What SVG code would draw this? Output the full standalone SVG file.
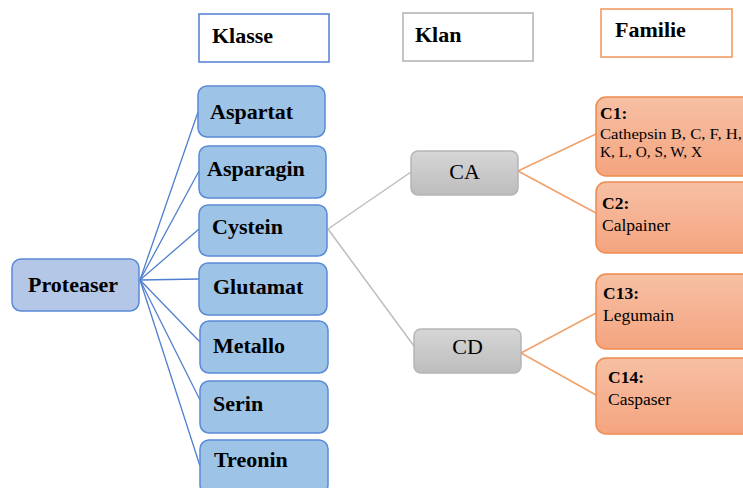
<svg xmlns="http://www.w3.org/2000/svg" width="743" height="488" viewBox="0 0 743 488">
<defs>
<linearGradient id="gGray" x1="0" y1="0" x2="0" y2="1"><stop offset="0" stop-color="#d6d6d6"/><stop offset="1" stop-color="#bdbdbd"/></linearGradient>
<linearGradient id="gOr" x1="0" y1="0" x2="0" y2="1"><stop offset="0" stop-color="#f7c0a4"/><stop offset="1" stop-color="#f4a47f"/></linearGradient>
</defs>
<style>
.hdr{fill:#fff;stroke-width:1.5}
.blue{fill:#9dc3e6;stroke:#5a8ad6;stroke-width:1.5}
.prot{fill:#b4c7e7;stroke:#5a8ad6;stroke-width:1.5}
.gray{fill:url(#gGray);stroke:#b5b5b5;stroke-width:1.5}
.or{fill:url(#gOr);stroke:#ee8b4f;stroke-width:1.5}
.tb{font-family:"Liberation Serif",serif;font-weight:bold;font-size:22px;fill:#000}
.tr{font-family:"Liberation Serif",serif;font-size:22px;fill:#000}
.fb{font-family:"Liberation Serif",serif;font-weight:bold;font-size:17.5px;fill:#000}
.fr{font-family:"Liberation Serif",serif;font-size:17.5px;fill:#000}
.fs{font-family:"Liberation Serif",serif;font-size:15.3px;fill:#000}
.lb{stroke:#4f7fd0;stroke-width:1.3;fill:none}
.lg{stroke:#bdbdbd;stroke-width:1.5;fill:none}
.lo{stroke:#f2a06a;stroke-width:1.5;fill:none}
</style>
<g id="connectors">
<line class="lb" x1="140" y1="280" x2="198" y2="112"/>
<line class="lb" x1="140" y1="280" x2="199" y2="171"/>
<line class="lb" x1="140" y1="280" x2="199" y2="229"/>
<line class="lb" x1="140" y1="280" x2="199" y2="279"/>
<line class="lb" x1="140" y1="280" x2="200" y2="342"/>
<line class="lb" x1="140" y1="280" x2="200" y2="400"/>
<line class="lb" x1="140" y1="280" x2="200" y2="466"/>
<line class="lg" x1="328" y1="229" x2="411" y2="172"/>
<line class="lg" x1="328" y1="229" x2="414" y2="346"/>
<line class="lo" x1="518" y1="171" x2="596" y2="134"/>
<line class="lo" x1="518" y1="171" x2="596" y2="213"/>
<line class="lo" x1="521" y1="353" x2="596" y2="313"/>
<line class="lo" x1="521" y1="353" x2="596" y2="395"/>
</g>
<g id="hdr-klasse"><rect class="hdr" x="199" y="14" width="130" height="48" stroke="#4f7fd0"/><text class="tb" x="212" y="43">Klasse</text></g>
<g id="hdr-klan"><rect class="hdr" x="403" y="13" width="130" height="48" stroke="#b0b0b0"/><text class="tb" x="415" y="42">Klan</text></g>
<g id="hdr-familie"><rect class="hdr" x="601" y="9" width="131" height="48" stroke="#f0955a"/><text class="tb" x="615" y="37">Familie</text></g>
<g id="proteaser"><rect class="prot" x="12" y="259" width="127" height="52" rx="9"/><text class="tb" x="28" y="292">Proteaser</text></g>
<g id="aspartat"><rect class="blue" x="198" y="86" width="127" height="51" rx="9"/><text class="tb" x="210" y="119">Aspartat</text></g>
<g id="asparagin"><rect class="blue" x="199" y="146" width="127" height="52" rx="9"/><text class="tb" x="207" y="176">Asparagin</text></g>
<g id="cystein"><rect class="blue" x="199" y="205" width="128" height="51" rx="9"/><text class="tb" x="212" y="234">Cystein</text></g>
<g id="glutamat"><rect class="blue" x="199" y="263" width="128" height="52" rx="9"/><text class="tb" x="213" y="294">Glutamat</text></g>
<g id="metallo"><rect class="blue" x="200" y="321" width="128" height="52" rx="9"/><text class="tb" x="213" y="353">Metallo</text></g>
<g id="serin"><rect class="blue" x="200" y="381" width="128" height="52" rx="9"/><text class="tb" x="213" y="411">Serin</text></g>
<g id="treonin"><rect class="blue" x="200" y="440" width="128" height="54" rx="9"/><text class="tb" x="214" y="467">Treonin</text></g>
<g id="ca"><rect class="gray" x="411" y="151" width="107" height="44" rx="7"/><text class="tr" x="464.5" y="179" text-anchor="middle">CA</text></g>
<g id="cd"><rect class="gray" x="414" y="329" width="107" height="44" rx="7"/><text class="tr" x="467.5" y="354" text-anchor="middle">CD</text></g>
<g id="c1"><rect class="or" x="596" y="97" width="160" height="79" rx="10"/><text class="fb" x="600" y="119">C1:</text><text class="fs" x="600" y="139" textLength="142" lengthAdjust="spacingAndGlyphs">Cathepsin B, C, F, H,</text><text class="fs" x="600" y="157" textLength="102" lengthAdjust="spacingAndGlyphs">K, L, O, S, W, X</text></g>
<g id="c2"><rect class="or" x="596" y="182" width="160" height="71" rx="10"/><text class="fb" x="602" y="209">C2:</text><text class="fr" x="602" y="231">Calpainer</text></g>
<g id="c13"><rect class="or" x="596" y="274" width="160" height="75" rx="10"/><text class="fb" x="603" y="299">C13:</text><text class="fr" x="603" y="321">Legumain</text></g>
<g id="c14"><rect class="or" x="596" y="358" width="160" height="76" rx="10"/><text class="fb" x="608" y="383">C14:</text><text class="fr" x="608" y="405">Caspaser</text></g>
</svg>
